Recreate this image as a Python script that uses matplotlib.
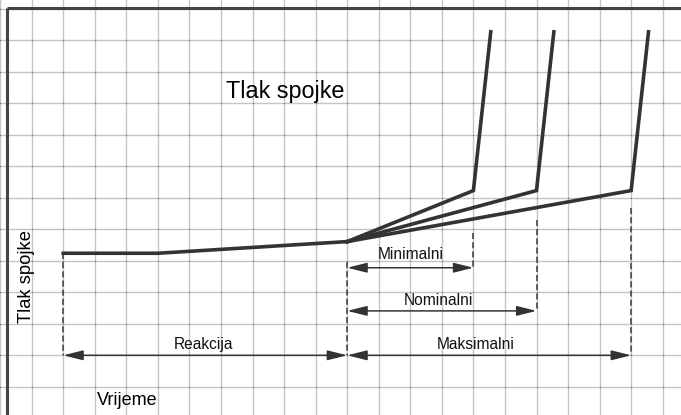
import numpy as np
import matplotlib.pyplot as plt

plt.rcParams['font.family'] = ['Liberation Sans', 'DejaVu Sans']

# Tlak spojke (grid units: 1 cell = 1 unit)
base_x = [1.0, 4.0, 10.0]
base_y = [5.24, 5.24, 5.61]

branch_names = ["Minimalni", "Nominalni", "Maksimalni"]
corner_x = [14.0, 16.0, 19.0]
corner_y = [7.23, 7.23, 7.23]
top_x = [14.55, 16.55, 19.55]
top_y = [12.27, 12.27, 12.27]

# vremenski intervali (dimenzijske strelice)
arrow_start = [10.0, 10.0, 10.0, 1.0]
arrow_end = [14.0, 16.0, 19.0, 10.0]
arrow_level = [4.78, 3.41, 2.0, 2.0]
arrow_labels = ["Minimalni", "Nominalni", "Maksimalni", "Reakcija"]
label_x = [12.0, 12.9, 14.07, 5.44]
label_y = [5.19, 3.73, 2.33, 2.33]

# isprekidane okomite linije
dash_x = [1.0, 10.0, 14.0, 16.0, 19.0]
dash_top = [5.24, 4.97, 5.88, 6.3, 6.67]
dash_bottom = [2.0, 2.0, 4.78, 3.41, 2.0]

fig = plt.figure(figsize=(6.81, 4.15), dpi=100)
ax = fig.add_axes([0, 0, 1, 1])
ax.set_xlim(-1.005, 20.58)
ax.set_ylim(0.105, 13.28)
ax.axis('off')

# mreza
for gx in range(-1, 21):
    ax.axvline(gx, color='#c4c4c4', lw=1.0, zorder=0)
for gy in range(1, 14):
    ax.axhline(gy, color='#c4c4c4', lw=1.0, zorder=0)
gxx, gyy = np.meshgrid(np.arange(-1, 21), np.arange(1, 14))
ax.scatter(gxx.ravel(), gyy.ravel(), s=0.6, color='#555555', lw=0, zorder=1)

# okvir (lijevo i gore)
ax.plot([-0.79, -0.79], [0.0, 13.02], color='#444444', lw=2.2, zorder=5,
        solid_capstyle='butt')
ax.plot([-0.79, 20.6], [13.02, 13.02], color='#444444', lw=2.2, zorder=5,
        solid_capstyle='butt')

# krivulje tlaka
ax.plot(base_x, base_y, color='#333333', lw=2.6, zorder=4, solid_joinstyle='miter')
for cx, cy, tx, ty in zip(corner_x, corner_y, top_x, top_y):
    ax.plot([base_x[-1], cx, tx], [base_y[-1], cy, ty], color='#333333', lw=2.6,
            zorder=4, solid_joinstyle='miter')

# isprekidane linije
for x, t, b in zip(dash_x, dash_top, dash_bottom):
    ax.plot([x, x], [t, b], color='#3a3a3a', lw=1.1, ls=(0, (4, 2)), zorder=3)

# strelice
for s, e, lvl in zip(arrow_start, arrow_end, arrow_level):
    ax.annotate('', xy=(e, lvl), xytext=(s, lvl),
                arrowprops=dict(arrowstyle='<|-|>,head_length=1.2,head_width=0.3',
                                mutation_scale=10, color='#333333', lw=1.1,
                                shrinkA=0, shrinkB=0), zorder=3)
for txt, lx, ly in zip(arrow_labels, label_x, label_y):
    ax.text(lx, ly, txt, fontsize=11.2, ha='center', va='center', color='#111111')

ax.text(8.02, 10.37, "Tlak spojke", fontsize=16.8, ha='center', va='center')
ax.text(-0.15, 4.49, "Tlak spojke", fontsize=13.2, rotation=90,
        ha='center', va='center')
ax.text(3.02, 0.58, "Vrijeme", fontsize=13, ha='center', va='center')

fig.savefig('out.png', dpi=100)
